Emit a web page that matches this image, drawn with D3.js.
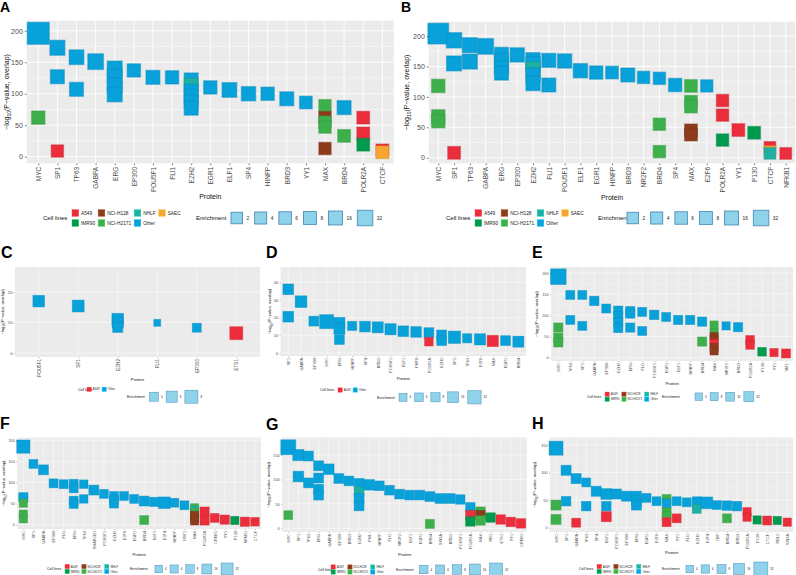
<!DOCTYPE html>
<html><head><meta charset="utf-8">
<script src="https://cdn.jsdelivr.net/npm/d3@7"></script>
<style>body{margin:0;background:#fff} text{font-family:"Liberation Sans",Arial,Helvetica,sans-serif}</style>
</head><body><svg id="c" width="796" height="575"></svg>
<script>
// ---------- shared ----------
const cellLevels = ["A549","IMR90","NCI-H128","NCI-H2171","NHLF","Other","SAEC"];
const cellColors = ["#EC2D3B","#009A4E","#8E3B1C","#3DB04B","#1DB0A3","#08A1DA","#F7A731"];
const legendCellsFull = ["A549","IMR90","NCI-H128","NCI-H2171","NHLF","Other","SAEC"];
const legendCellsSix = ["A549","IMR90","NCI-H128","NCI-H2171","NHLF","Other"];
const legendCellsTwo = ["A549","Other"];

// ---------- Panel A ----------
const catsA = ["MYC","SP1","TP63","GABPA","ERG","EP300","POU5F1","FLI1","EZH2","EGR1","ELF1","SP4","HINFP","BRD3","YY1","MAX","BRD4","POLR2A","CTCF"];
const ptsA = [
["MYC",196,"Other",157],["MYC",62,"NCI-H2171",11],
["SP1",173,"Other",26],["SP1",127,"Other",16],["SP1",9,"A549",5],
["TP63",158,"Other",23],["TP63",107,"Other",16],
["GABPA",151,"Other",34],
["ERG",140,"Other",26],["ERG",127,"Other",26],["ERG",113,"Other",26],["ERG",99,"Other",26],
["EP300",137,"Other",11],["POU5F1",126,"Other",16],["FLI1",126,"Other",11],
["EZH2",122,"Other",16],["EZH2",114,"NHLF",16],["EZH2",104,"Other",16],["EZH2",96,"Other",16],["EZH2",87,"Other",16],["EZH2",77,"Other",16],
["EGR1",110,"Other",11],["ELF1",106,"Other",23],["SP4",100,"Other",19],["HINFP",100,"Other",11],["BRD3",92,"Other",16],["YY1",86,"Other",7],
["MAX",81,"NCI-H2171",5],["MAX",62,"NCI-H128",5],["MAX",55,"NCI-H2171",5],["MAX",47,"NCI-H2171",5],["MAX",13,"NCI-H128",5],
["BRD4",78,"Other",16],["BRD4",33,"NCI-H2171",7],
["POLR2A",62,"A549",7],["POLR2A",37,"A549",7],["POLR2A",19,"IMR90",7],
["CTCF",10,"A549",7],["CTCF",7,"SAEC",7]
];
const ticksA = [0,50,100,150,200];
const enrValsA = [2,4,6,8,16,32];

// ---------- Panel B ----------
const catsB = ["MYC","SP1","TP63","GABPA","ERG","EP300","EZH2","FLI1","POU5F1","ELF1","EGR1","HINFP","BRD3","NR2F2","BRD4","SP4","MAX","E2F6","POLR2A","YY1","P130","CTCF","NFKB1"];
const ptsB = [
["MYC",204,"Other",125],["MYC",118,"NCI-H2171",11],["MYC",68,"NCI-H2171",11],["MYC",60,"NCI-H2171",11],
["SP1",193,"Other",30],["SP1",155,"Other",26],["SP1",8,"A549",7],
["TP63",185,"Other",26],["TP63",158,"Other",26],
["GABPA",183,"Other",34],
["ERG",170,"Other",16],["ERG",160,"Other",16],["ERG",148,"Other",16],["ERG",139,"Other",16],
["EP300",169,"Other",19],
["EZH2",161,"Other",19],["EZH2",154,"Other",19],["EZH2",146,"NHLF",19],["EZH2",136,"Other",19],["EZH2",122,"Other",19],
["FLI1",160,"Other",16],["FLI1",119.5,"Other",16],
["POU5F1",159,"Other",19],["ELF1",143,"Other",19],["EGR1",140,"Other",11],["HINFP",140,"Other",7],["BRD3",136,"Other",16],["NR2F2",132,"Other",5],
["BRD4",130.5,"Other",5],["BRD4",55,"NCI-H2171",5],["BRD4",10,"NCI-H2171",5],
["SP4",119.5,"Other",11],
["MAX",118,"NCI-H2171",7],["MAX",92,"NCI-H2171",7],["MAX",84,"NCI-H2171",7],["MAX",45,"NCI-H128",7],["MAX",38,"NCI-H128",7],
["E2F6",118,"Other",5],
["POLR2A",94,"A549",5],["POLR2A",70,"A549",5],["POLR2A",29,"IMR90",5],
["YY1",45.5,"A549",7],["P130",41,"IMR90",7],
["CTCF",17,"A549",2],["CTCF",10,"SAEC",2],["CTCF",7,"NHLF",2],
["NFKB1",7,"A549",2.5]
];
const ticksB = [0,50,100,150,200];
const enrValsB = [2,4,6,8,16,32];

// ---------- Panel C ----------
const catsC = ["POU5F1","SP1","EZH2","FLI1","EP300","ETS1"];
const ptsC = [["POU5F1",17,"Other",6.5],["SP1",15.4,"Other",6.8],["EZH2",11.1,"Other",6.5],["EZH2",10,"Other",6],["EZH2",8.4,"Other",5],["FLI1",9.9,"Other",2.5],["EP300",8.3,"Other",4],["ETS1",6.5,"A549",8]];
const ticksC = [0,10,20];
const enrValsC = [4,6,8];

// ---------- Panel D ----------
const catsD = ["SP1","GABPA","EP300","MYC","ERG","HINFP","SP4","BRD2","POU5F1","ELF1","PHF8","POLR2A","EZH2","SP2","TP63","E2F6","MAX","EGR1","BRD4"];
const ptsD = [
["SP1",36,"Other",15],["SP1",20.5,"Other",15],["GABPA",29,"Other",21],["EP300",18,"Other",11],["MYC",17.7,"Other",38],
["ERG",17,"Other",17],["ERG",13.8,"Other",17],["ERG",7.6,"Other",11],
["HINFP",15.3,"Other",8],["SP4",14.9,"Other",15],["BRD2",14.5,"Other",17],["POU5F1",13.4,"Other",18],["ELF1",12.3,"Other",15],["PHF8",11.9,"Other",15],
["POLR2A",11.5,"Other",11],["POLR2A",6.4,"A549",6],
["EZH2",10.2,"Other",11],["EZH2",7,"Other",11],
["SP2",8.9,"Other",25],["TP63",8.3,"Other",8],["E2F6",7.7,"Other",18],["MAX",6.8,"A549",18],["EGR1",7,"Other",11],["BRD4",6.4,"Other",17]
];
const ticksD = [0,10,20,30,40];
const enrValsD = [4,6,8,16,32];

// ---------- Panel E ----------
const catsE = ["MYC","TP63","SP1","GABPA","EP300","EZH2","ERG","FLI1","POU5F1","EGR1","ELF1","HINFP","BRD4","MAX","NR2F2","BRD3","POLR2A","P130","YY1","TAF1"];
const ptsE = [
["MYC",191,"Other",196],["MYC",71,"NCI-H2171",21],["MYC",47,"NCI-H2171",21],["MYC",36,"NCI-H2171",21],
["TP63",148,"Other",18],["TP63",89,"Other",18],
["SP1",148,"Other",18],["SP1",75,"Other",18],
["GABPA",134,"Other",24],["EP300",116,"Other",18],
["EZH2",111,"Other",21],["EZH2",98,"Other",21],["EZH2",84,"Other",21],["EZH2",70,"Other",21],
["ERG",110,"Other",21],["ERG",104,"Other",21],["ERG",71,"Other",21],
["FLI1",108,"Other",18],["FLI1",63,"Other",18],
["POU5F1",101,"Other",24],["EGR1",96,"Other",18],["ELF1",89,"Other",21],["HINFP",89,"Other",21],
["BRD4",85,"Other",21],["BRD4",38,"NCI-H2171",21],
["MAX",77,"NCI-H2171",10],["MAX",58,"NCI-H2171",10],["MAX",50,"NCI-H128",10],["MAX",42,"NCI-H128",10],["MAX",33,"A549",10],["MAX",24,"NCI-H128",10],["MAX",16,"NCI-H128",10],
["NR2F2",75,"Other",10],["BRD3",72,"Other",21],
["POLR2A",42,"A549",14],["POLR2A",30,"A549",14],
["P130",14,"IMR90",14],["YY1",12,"A549",10],["TAF1",10,"A549",18]
];
const ticksE = [0,50,100,150,200];
const enrValsE = [4,8,16,32];

// ---------- Panel F ----------
const catsF = ["MYC","SP1","GABPA","EP300","FLI1","ERG","TP63","SMARCB1","POU5F1","EZH2","E2F6","EGR1","BRD4","ELF1","E2F4","HINFP","USF1","MAX","POLR2A","CREB1","YY1","P130","NFKB1","CTCF"];
const ptsF = [
["MYC",185,"Other",45],["MYC",65,"Other",12],["MYC",51,"NCI-H2171",7],["MYC",25,"NCI-H2171",7],["MYC",14,"NCI-H2171",7],
["SP1",144,"Other",10],["GABPA",130,"Other",16],["EP300",98,"Other",10],["FLI1",96,"Other",10],
["ERG",97,"Other",10],["ERG",86,"Other",10],["ERG",57,"Other",10],["ERG",49,"Other",10],
["TP63",96,"Other",8],["TP63",61,"Other",8],
["SMARCB1",82,"Other",16],["POU5F1",73,"Other",10],
["EZH2",68,"Other",10],["EZH2",58,"Other",10],["EZH2",50,"Other",10],
["E2F6",68,"Other",10],["EGR1",61,"Other",10],
["BRD4",56,"Other",16],["BRD4",11,"NCI-H2171",10],
["ELF1",54,"Other",12],["E2F4",52,"Other",29],["HINFP",52,"Other",10],["USF1",46,"Other",10],
["MAX",40,"NCI-H2171",7],["MAX",34,"NHLF",7],["MAX",29,"NCI-H2171",7],["MAX",22,"NCI-H128",7],["MAX",15,"NCI-H128",7],["MAX",9,"NCI-H128",7],
["POLR2A",31,"A549",12],["POLR2A",10,"A549",12],
["CREB1",16,"A549",10],["YY1",12,"A549",12],["P130",10,"IMR90",7],["NFKB1",7,"A549",12],["CTCF",7,"A549",8.5]
];
const ticksF = [0,50,100,150,200];
const enrValsF = [4,6,8,16,32];

// ---------- Panel G ----------
const catsG = ["MYC","SP1","TP63","ERG","GABPA","EP300","BRD3","EZH2","PML","HINFP","FLI1","NR2F2","ELF1","EGR1","BRD4","SIN3A","BRD2","POU5F1","POLR2A","MAX","RB1","ETS1","YY1","CREB1"];
const ptsG = [
["MYC",166,"Other",53],["MYC",27,"NCI-H2171",5],
["SP1",150,"Other",18],["SP1",106,"Other",14],
["TP63",148,"Other",10],["TP63",93,"Other",10],
["ERG",128,"Other",10],["ERG",103,"Other",10],["ERG",80,"Other",10],["ERG",68,"Other",10],
["GABPA",121,"Other",14],["EP300",102,"Other",10],["BRD3",97,"Other",9],
["EZH2",92,"Other",10],["EZH2",75,"NHLF",10],["EZH2",61,"Other",10],["EZH2",46,"Other",10],
["PML",89,"Other",14],["HINFP",87,"Other",9],["FLI1",78,"Other",9],["NR2F2",70,"Other",9],["ELF1",68,"Other",9],["EGR1",68,"Other",9],
["BRD4",65,"Other",10],["BRD4",9,"NCI-H2171",6],
["SIN3A",61,"Other",10],["BRD2",61,"Other",10],["POU5F1",59,"Other",8],
["POLR2A",43,"Other",8],["POLR2A",27,"A549",8],["POLR2A",14,"IMR90",8],
["MAX",34,"NCI-H2171",8],["MAX",27,"NCI-H128",8],["MAX",16,"NCI-H2171",8],
["RB1",22,"IMR90",8],["ETS1",18,"A549",8],["YY1",13,"A549",8],["CREB1",10,"A549",8]
];
const ticksG = [0,50,100,150];
const enrValsG = [4,6,8,16,32];

// ---------- Panel H ----------
const catsH = ["MYC","SP1","GABPA","TP63","SP4","ELF1","POU5F1","EP300","ERG","EGR1","E2F6","MAX","YY1","FLI1","EZH2","E2F4","TBP","BRD4","BRD3","POLR2A","P130","CTCF","RBL2","SIN3A"];
const ptsH = [
["MYC",144,"Other",32],["MYC",41,"NCI-H2171",12],["MYC",15,"NCI-H2171",12],
["SP1",104,"Other",12],["SP1",48,"Other",10],
["GABPA",89,"Other",12],["GABPA",9,"A549",8],
["TP63",82,"Other",8],["TP63",39,"Other",10],
["SP4",66,"Other",12],
["ELF1",61,"Other",15],["ELF1",39,"Other",10],["ELF1",20,"A549",12],
["POU5F1",61,"Other",12],["EP300",57,"Other",12],
["ERG",57,"Other",12],["ERG",49,"Other",12],["ERG",41,"Other",12],
["EGR1",54,"Other",8],["E2F6",48,"Other",8],
["MAX",52,"NCI-H2171",8],["MAX",44,"Other",8],["MAX",28,"NCI-H2171",8],["MAX",21,"NCI-H2171",8],["MAX",10,"A549",8],
["YY1",48,"Other",8],["YY1",17,"A549",8],
["FLI1",46,"Other",8],
["EZH2",48,"Other",8],["EZH2",44,"Other",8],["EZH2",34,"NHLF",8],
["E2F4",45,"Other",19.5],["TBP",41,"Other",8],
["BRD4",40,"Other",10],["BRD4",17,"NCI-H2171",8],
["BRD3",39,"Other",10],
["POLR2A",29,"A549",6],["POLR2A",19,"A549",6],
["P130",14,"IMR90",6],["CTCF",13,"A549",8],["RBL2",13,"IMR90",6],["SIN3A",10,"A549",6]
];
const ticksH = [0,50,100,150];
const enrValsH = [4,6,8,16,32];

// ---------- layout ----------
const fontBig = {tick:7, xlab:6.5, title:7, legTitle:6, legLab:4.8, letter:14, tickLen:2, pad:3.5, grid:0.9, minor:0.45, sw:6.7, gap:2.3, colGap:3, rowGap:10, eGap:4, eColGap:3.5};
const fontSmall = {tick:3.8, xlab:3.8, title:4.2, legTitle:3.5, legLab:2.9, letter:16, tickLen:1, pad:2, grid:0.5, minor:0.25, sw:4.3, gap:1.5, colGap:2.5, rowGap:5, eGap:2.5, eColGap:1.5};
const fontC = Object.assign({}, fontSmall, {xlab:4.6, tick:4.2});

const panels = [
 {L:"A", letterXY:[0,12], cats:catsA, pts:ptsA, ticks:ticksA, box:[26.8,20.7,393.8,163.3], yDom:[-10.5,216], sizeDom:[2,32], sizeRng:[11.5,15.5], f:fontBig,
  yTitleX:6.7, protY:197,
  cell:{levels:legendCellsFull, rows:2, titleX:43, keysX:72, y:218}, enr:{vals:enrValsA, titleX:196, keysX:231, y:218}},
 {L:"B", letterXY:[401,12], cats:catsB, pts:ptsB, ticks:ticksB, box:[428.8,21.7,795.2,163.3], yDom:[-9.2,223.6], sizeDom:[2,32], sizeRng:[11.5,15.5], f:fontBig,
  yTitleX:406.5, protY:198,
  cell:{levels:legendCellsFull, rows:2, titleX:446, keysX:475, y:218}, enr:{vals:enrValsB, titleX:598, keysX:627, y:218}},
 {L:"C", letterXY:[1,258], cats:catsC, pts:ptsC, ticks:ticksC, box:[15,267,260,357], yDom:[-1.3,28.2], sizeDom:[4,8], sizeRng:[9,13], f:fontC,
  yTitleX:2.5, protY:379.5,
  cell:{levels:legendCellsTwo, rows:1, titleX:78, keysX:87, y:389.3}, enr:{vals:enrValsC, titleX:127, keysX:149.5, y:396.7}},
 {L:"D", letterXY:[266,258], cats:catsD, pts:ptsD, ticks:ticksD, box:[280.6,267,526,356], yDom:[-1.7,48.6], sizeDom:[4,32], sizeRng:[8,13.3], f:fontSmall,
  yTitleX:270, protY:379,
  cell:{levels:legendCellsTwo, rows:1, titleX:320, keysX:338, y:390}, enr:{vals:enrValsD, titleX:377, keysX:399, y:397.3}},
 {L:"E", letterXY:[532,258], cats:catsE, pts:ptsE, ticks:ticksE, box:[551.1,267,793.2,361], yDom:[-7.8,213.9], sizeDom:[4,32], sizeRng:[7.5,10], f:fontSmall,
  yTitleX:536.5, protY:384,
  cell:{levels:legendCellsSix, rows:2, titleX:587, keysX:605, y:396.7}, enr:{vals:enrValsE, titleX:662, keysX:695, y:396.7}},
 {L:"F", letterXY:[0,429], cats:catsF, pts:ptsF, ticks:ticksF, box:[17.3,437.5,261,529], yDom:[-10.2,206.6], sizeDom:[4,32], sizeRng:[7.5,12], f:fontSmall,
  yTitleX:4, protY:555,
  cell:{levels:legendCellsSix, rows:2, titleX:47, keysX:65, y:569}, enr:{vals:enrValsF, titleX:130, keysX:155, y:569}},
 {L:"G", letterXY:[266,430], cats:catsG, pts:ptsG, ticks:ticksG, box:[282.2,437.5,527,532], yDom:[-7.6,186], sizeDom:[4,32], sizeRng:[8.5,13], f:fontSmall,
  yTitleX:268.5, protY:555,
  cell:{levels:legendCellsSix, rows:2, titleX:318, keysX:331, y:569.5}, enr:{vals:enrValsG, titleX:396, keysX:419.5, y:569.5}},
 {L:"H", letterXY:[532,429], cats:catsH, pts:ptsH, ticks:ticksH, box:[550,437.5,793.3,532], yDom:[-7.8,163.4], sizeDom:[4,32], sizeRng:[7.5,14], f:fontSmall,
  yTitleX:535, protY:553,
  cell:{levels:legendCellsSix, rows:2, titleX:579, keysX:597, y:569}, enr:{vals:enrValsH, titleX:662, keysX:686, y:569}}
];

const svg = d3.select("#c");
const color = d3.scaleOrdinal().domain(cellLevels).range(cellColors);

function drawPanel(p){
  const g = svg.append("g");
  const f = p.f;
  const [x0,y0,x1,y1] = p.box;
  const x = d3.scalePoint().domain(p.cats).range([x0,x1]).padding(0.6);
  const y = d3.scaleLinear().domain(p.yDom).range([y1,y0]);
  const size = d3.scaleSqrt().domain(p.sizeDom).range(p.sizeRng);

  // letter
  g.append("text").attr("x",p.letterXY[0]).attr("y",p.letterXY[1]).attr("font-size",f.letter).attr("font-weight","bold").attr("fill","#000").text(p.L);

  // background + grid
  g.append("rect").attr("x",x0).attr("y",y0).attr("width",x1-x0).attr("height",y1-y0).attr("fill","#EBEBEB");
  const t = p.ticks, step = t[1]-t[0];
  const minor = [];
  for (let v = t[0]-step/2; v <= p.yDom[1]; v += step) if (v >= p.yDom[0]) minor.push(v);
  g.append("g").selectAll("line").data(minor).join("line")
    .attr("x1",x0).attr("x2",x1).attr("y1",d=>y(d)).attr("y2",d=>y(d)).attr("stroke","#fff").attr("stroke-width",f.minor);
  g.append("g").selectAll("line").data(t).join("line")
    .attr("x1",x0).attr("x2",x1).attr("y1",d=>y(d)).attr("y2",d=>y(d)).attr("stroke","#fff").attr("stroke-width",f.grid);
  g.append("g").selectAll("line").data(p.cats).join("line")
    .attr("x1",d=>x(d)).attr("x2",d=>x(d)).attr("y1",y0).attr("y2",y1).attr("stroke","#fff").attr("stroke-width",f.grid);

  // points
  g.append("g").selectAll("rect").data(p.pts).join("rect")
    .attr("x",d=>x(d[0])-size(d[3])/2).attr("y",d=>y(d[1])-size(d[3])/2)
    .attr("width",d=>size(d[3])).attr("height",d=>size(d[3]))
    .attr("fill",d=>color(d[2]))
    .attr("stroke",d=>d3.color(color(d[2])).darker(0.4))
    .attr("stroke-opacity",0.45).attr("stroke-width",f===fontBig?1.3:0.8);

  // axes
  const ay = g.append("g").attr("transform",`translate(${x0},0)`)
    .call(d3.axisLeft(y).tickValues(t).tickSize(f.tickLen).tickPadding(f.pad-f.tickLen+0.5));
  const ax = g.append("g").attr("transform",`translate(0,${y1})`)
    .call(d3.axisBottom(x).tickSize(f.tickLen).tickPadding(0));
  [ay,ax].forEach(a=>{ a.select(".domain").remove(); a.selectAll("line").attr("stroke","#333").attr("stroke-width",f===fontBig?0.6:0.35);
    a.selectAll("text").attr("fill","#4D4D4D").attr("font-family",null); });
  ay.selectAll("text").attr("font-size",f.tick);
  ax.selectAll("text").attr("font-size",f.xlab).attr("transform","rotate(-90)")
    .attr("text-anchor","end").attr("x",-f.pad).attr("y",0).attr("dy","0.35em");

  // axis titles
  const yt = g.append("text").attr("transform",`translate(${p.yTitleX},${(y0+y1)/2}) rotate(-90)`)
    .attr("text-anchor","middle").attr("dy","0.35em").attr("font-size",f.title).attr("fill","#111");
  yt.append("tspan").text("\u2212log");
  yt.append("tspan").attr("font-size",f.title*0.7).attr("dy",f.title*0.3).text("10");
  yt.append("tspan").attr("dy",-f.title*0.3).text("(P\u2212value, overlap)");
  g.append("text").attr("x",(x0+x1)/2).attr("y",p.protY).attr("dy","0.35em").attr("text-anchor","middle")
    .attr("font-size",f.title).attr("fill","#111").text("Protein");

  // cell line legend
  const c = p.cell;
  g.append("text").attr("x",c.titleX).attr("y",c.y).attr("dy","0.35em").attr("font-size",f.legTitle).attr("fill","#111").text("Cell lines");
  const ncol = Math.ceil(c.levels.length/c.rows);
  let cx = c.keysX;
  for (let ci=0; ci<ncol; ci++){
    let maxW = 0;
    for (let r=0; r<c.rows; r++){
      const lv = c.levels[ci*c.rows+r]; if (!lv) break;
      const yy = c.y + (r-(c.rows-1)/2)*f.rowGap;
      g.append("rect").attr("x",cx).attr("y",yy-f.sw/2).attr("width",f.sw).attr("height",f.sw)
        .attr("fill",color(lv)).attr("stroke",d3.color(color(lv)).brighter(0.6)).attr("stroke-width",0.4);
      const tx = g.append("text").attr("x",cx+f.sw+f.gap).attr("y",yy).attr("dy","0.35em").attr("font-size",f.legLab).attr("fill","#222").text(lv);
      maxW = Math.max(maxW, tx.node().getComputedTextLength());
    }
    cx += f.sw + f.gap + maxW + f.colGap;
  }

  // enrichment legend
  const e = p.enr;
  g.append("text").attr("x",e.titleX).attr("y",e.y).attr("dy","0.35em").attr("font-size",f.legTitle).attr("fill","#111").text("Enrichment");
  let ex = e.keysX;
  e.vals.forEach(v=>{
    const s = size(v);
    g.append("rect").attr("x",ex).attr("y",e.y-s/2).attr("width",s).attr("height",s)
      .attr("fill","#8ED3EA").attr("stroke","#4C8DBA").attr("stroke-width",f===fontBig?0.9:0.5);
    const tx = g.append("text").attr("x",ex+s+f.eGap).attr("y",e.y).attr("dy","0.35em").attr("font-size",f.legLab).attr("fill","#222").text(v);
    ex += s + f.eGap + tx.node().getComputedTextLength() + f.eColGap + 2;
  });
}
panels.forEach(drawPanel);
</script></body></html>
